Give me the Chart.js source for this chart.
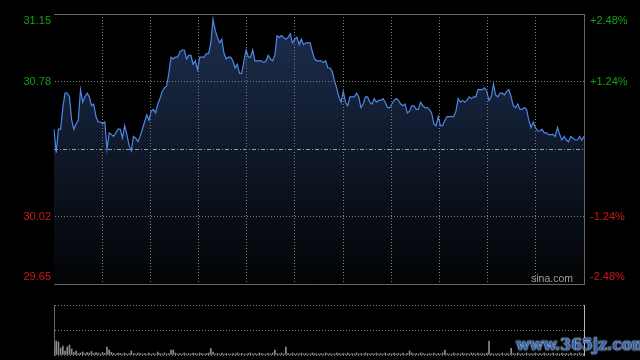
<!DOCTYPE html>
<html><head><meta charset="utf-8">
<script src="https://cdn.jsdelivr.net/npm/chart.js@4"></script>
<style>
html,body{margin:0;padding:0;background:#000;width:640px;height:360px;overflow:hidden}
canvas{display:block}
#c1{position:absolute;left:0;top:0}
#c2{position:absolute;left:0;top:290px}
#edge{position:absolute;left:0;top:0;width:3px;height:300px;background:#000}
#wm{position:absolute;left:516px;top:335px;font:bold 16px "DejaVu Serif",serif;color:#2f63b5;text-shadow:0 0 2px #e8eef8,0 0 1px #fff;letter-spacing:-0.3px;white-space:nowrap}
</style></head><body>
<canvas id="c1" width="640" height="300"></canvas>
<canvas id="c2" width="640" height="70"></canvas>
<div id="edge"></div>
<div id="wm">www.365jz.com</div>
<script>
// ---- data ----
const times = [];
for (let m = 570; m <= 690; m++) times.push(String(Math.floor(m/60)).padStart(2,'0') + ':' + String(m%60).padStart(2,'0'));
for (let m = 781; m <= 900; m++) times.push(String(Math.floor(m/60)).padStart(2,'0') + ':' + String(m%60).padStart(2,'0'));

const prices = [
30.51,30.38,30.51,30.51,30.63,30.71,30.71,30.69,30.56,30.51,
30.54,30.56,30.73,30.66,30.69,30.71,30.69,30.64,30.65,30.58,
30.55,30.55,30.54,30.55,30.40,30.49,30.48,30.47,30.49,30.51,
30.51,30.46,30.53,30.48,30.42,30.39,30.47,30.46,30.44,30.47,
30.51,30.55,30.59,30.56,30.61,30.62,30.60,30.65,30.68,
30.72,30.74,30.75,30.82,30.91,30.90,30.91,30.91,30.94,30.95,
30.95,30.90,30.92,30.92,30.87,30.89,30.84,30.91,30.91,30.91,
30.93,30.93,30.99,31.12,31.06,31.02,30.99,31.01,30.93,30.90,
30.91,30.91,30.89,30.85,30.87,30.82,30.82,30.89,30.95,30.91,
30.91,30.95,30.89,30.89,30.89,30.89,30.88,30.89,
30.92,30.90,30.89,30.92,31.03,31.02,31.03,31.02,31.01,31.02,
31.04,30.99,31.01,31.02,30.98,31.01,30.98,30.99,30.99,30.99,
30.94,30.90,30.89,30.89,30.89,30.88,30.89,30.85,30.85,30.83,
30.78,30.74,30.69,30.66,30.72,30.66,30.64,30.69,30.69,30.69,
30.71,30.69,30.63,30.65,30.69,30.69,30.66,30.65,
30.68,30.66,30.67,30.67,30.68,30.66,30.63,30.63,30.65,30.67,
30.68,30.67,30.65,30.64,30.65,30.60,30.61,30.64,30.64,30.62,
30.62,30.66,30.64,30.63,30.63,30.62,30.60,30.54,30.53,30.58,
30.53,30.53,30.56,30.58,30.58,30.58,30.58,30.61,30.68,30.66,
30.67,30.66,30.67,30.69,30.68,30.69,30.69,30.73,
30.73,30.73,30.74,30.72,30.67,30.69,30.76,30.70,30.69,30.71,
30.71,30.70,30.72,30.73,30.69,30.64,30.63,30.65,30.62,30.62,
30.63,30.62,30.56,30.52,30.55,30.52,30.50,30.50,30.51,30.49,
30.49,30.48,30.48,30.48,30.47,30.52,30.48,30.45,30.47,30.45,
30.44,30.47,30.46,30.45,30.45,30.47,30.45,30.47
];

const volumes = [
700,1400,1300,700,900,400,800,1000,600,250,
400,150,200,300,150,250,200,350,150,250,
200,100,250,150,800,500,270,150,100,200,
150,100,200,100,150,400,150,100,200,150,
100,150,100,200,100,150,100,300,150,100,
200,100,150,500,500,200,100,150,100,200,
100,150,100,200,150,100,200,150,100,150,
200,670,300,100,150,100,200,100,150,100,
100,150,100,200,100,150,100,100,150,200,
100,150,100,200,150,100,100,150,100,200,
500,150,100,200,100,800,150,100,200,100,
150,100,200,100,150,100,100,200,150,100,
100,150,100,200,100,150,100,100,200,150,
100,150,100,200,100,150,100,200,100,150,
100,200,150,100,150,100,200,100,150,100,
200,100,150,100,200,100,150,100,200,100,
150,400,200,100,150,100,200,150,100,100,
150,100,200,100,150,100,200,500,150,100,
100,200,100,150,100,200,100,150,100,200,
150,100,200,100,150,100,200,1400,150,100,
100,150,100,200,100,150,100,670,150,100,
200,100,150,100,200,100,150,100,200,100,
150,100,200,100,150,100,200,100,150,100,
200,100,150,100,200,100,150,100,200,100,
150
];

const prevClose = 30.40;
const priceTicks = [29.65, 30.025, 30.40, 30.775, 31.15];
const priceLabels = ['29.65', '30.02', '', '30.78', '31.15'];
const pctLabels = ['-2.48%', '-1.24%', '', '+1.24%', '+2.48%'];
const volMax = 5000;
const volTicks = [0, 2500, 5000];

// ---- styles ----
const FONT = '"Liberation Sans", Arial, sans-serif';
const GREEN = '#14a014';
const RED = '#d01818';
const GRID = '#7c7c7c';
const FRAME = '#676767';

function edgeLabel(labels) {
  return (v, i, arr) => {
    const l = labels[i];
    if (i === 0) return [l, ''];
    if (i === arr.length - 1) return ['', l];
    return l;
  };
}
function tickColor(c) {
  const v = c.tick && c.tick.value;
  return v > prevClose ? GREEN : RED;
}

const extras = {
  id: 'extras',
  afterDatasetsDraw(chart) {
    const {ctx, chartArea: a, scales: {y}} = chart;
    const py = Math.round(y.getPixelForValue(prevClose)) + 0.5;
    ctx.save();
    ctx.strokeStyle = '#9a9a9a';
    ctx.lineWidth = 1;
    ctx.setLineDash([4, 2, 1, 2]);
    ctx.beginPath(); ctx.moveTo(a.left, py); ctx.lineTo(a.right, py); ctx.stroke();
    ctx.setLineDash([]);
    ctx.strokeStyle = FRAME;
    const ty = Math.round(a.top) + 0.5;
    ctx.beginPath(); ctx.moveTo(a.left, ty); ctx.lineTo(a.right + 1, ty); ctx.stroke();
    ctx.fillStyle = '#a0a0a0';
    ctx.font = '10.5px ' + FONT;
    ctx.textAlign = 'right';
    ctx.textBaseline = 'middle';
    ctx.fillText('sina.com', a.right - 11, a.bottom - 5);
    ctx.restore();
  }
};

const noTicks = {display: false};

new Chart(document.getElementById('c1'), {
  type: 'line',
  data: {
    labels: times,
    datasets: [{
      data: prices,
      borderColor: '#4d88e6',
      borderWidth: 1.2,
      pointRadius: 0,
      tension: 0,
      fill: 'start',
      backgroundColor: (c) => {
        const a = c.chart.chartArea;
        if (!a) return 'transparent';
        const g = c.chart.ctx.createLinearGradient(0, a.top, 0, a.bottom);
        g.addColorStop(0, '#1d2f50');
        g.addColorStop(1, '#020304');
        return g;
      }
    }]
  },
  options: {
    responsive: false, animation: false, devicePixelRatio: 1,
    layout: {padding: {left: 0, right: 0, top: 14, bottom: 16}},
    plugins: {legend: {display: false}, tooltip: {enabled: false}},
    scales: {
      x: {type: 'category', offset: false, ticks: noTicks, grid: {display: false, drawTicks: false},
          border: {display: true, color: FRAME},
          afterFit: (s) => { s.height = 0; }},
      xg: {type: 'linear', position: 'bottom', min: 0, max: 11,
           ticks: {display: false, stepSize: 1},
           grid: {color: (c) => (c.tick.value === 0 || c.tick.value === 11) ? 'transparent' : GRID, drawTicks: false, z: 1},
           border: {display: false, dash: [1, 2]},
           afterFit: (s) => { s.height = 0; }},
      y: {position: 'left', min: 29.65, max: 31.15,
          afterBuildTicks: (s) => { s.ticks = priceTicks.map(v => ({value: v})); },
          afterFit: (s) => { s.width = 54; s.paddingTop = 0; s.paddingBottom = 0; },
          ticks: {callback: edgeLabel(priceLabels), color: tickColor, padding: 3,
                  font: {family: FONT, size: 11, lineHeight: 1.2}},
          grid: {color: (c) => (c.index === 0 || c.index === 4 || c.index === 2) ? 'transparent' : GRID, drawTicks: false, z: 1},
          border: {display: true, color: FRAME, dash: [1, 2]}},
      y2: {position: 'right', min: 29.65, max: 31.15,
           afterBuildTicks: (s) => { s.ticks = priceTicks.map(v => ({value: v})); },
           afterFit: (s) => { s.width = 56; s.paddingTop = 0; s.paddingBottom = 0; },
           ticks: {callback: edgeLabel(pctLabels), color: tickColor, padding: 6,
                   font: {family: FONT, size: 11, lineHeight: 1.2}},
           grid: {display: false, drawTicks: false},
           border: {display: true, color: FRAME}}
    }
  },
  plugins: [extras]
});

new Chart(document.getElementById('c2'), {
  type: 'bar',
  data: {labels: times, datasets: [{data: volumes, backgroundColor: '#8c8c8c', barThickness: 1, borderWidth: 0}]},
  options: {
    responsive: false, animation: false, devicePixelRatio: 1,
    layout: {padding: {left: 0, right: 0, top: 15, bottom: 5}},
    plugins: {legend: {display: false}, tooltip: {enabled: false}},
    scales: {
      x: {offset: false, ticks: noTicks, grid: {display: false, drawTicks: false}, border: {display: false},
          afterFit: (s) => { s.height = 0; }},
      y: {position: 'left', min: 0, max: volMax,
          afterBuildTicks: (s) => { s.ticks = volTicks.map(v => ({value: v})); },
          afterFit: (s) => { s.width = 54; s.paddingTop = 0; s.paddingBottom = 0; },
          ticks: noTicks,
          grid: {color: GRID, drawTicks: false},
          border: {display: true, color: FRAME, dash: [1, 2]}},
      y2: {position: 'right', min: 0, max: volMax, ticks: noTicks,
           afterFit: (s) => { s.width = 56; s.paddingTop = 0; s.paddingBottom = 0; },
           grid: {display: false, drawTicks: false},
           border: {display: true, color: '#b8b8b8'}}
    }
  }
});
</script>
</body></html>
